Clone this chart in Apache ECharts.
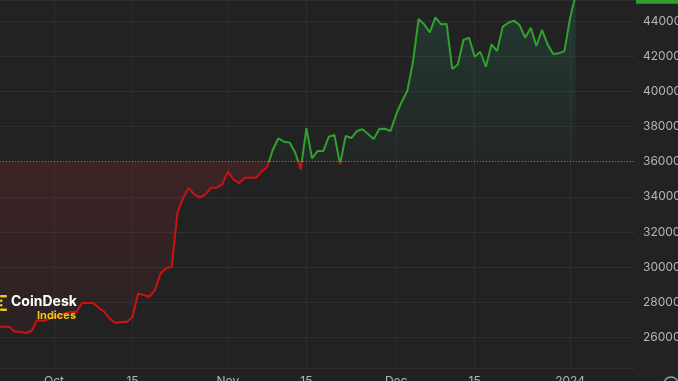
<!DOCTYPE html>
<html>
<head>
<meta charset="utf-8">
<script src="https://cdn.jsdelivr.net/npm/echarts@6/dist/echarts.min.js"></script>
<style>
html,body{margin:0;padding:0;background:#222222;}
#c{width:678px;height:381px;}
</style>
</head>
<body>
<div id="c"></div>
<script>
// ---- data ----
const startDate = '2023-09-21';
const prices = [
  26600, 26600, 26600, 26320, 26320, 26250, 26360, 26990, 26930, 27015,
  27160, 27215, 27385, 27440, 27440, 27950, 27950, 27950, 27670, 27440,
  27040, 26820, 26870, 26870, 27160, 28500, 28410, 28310, 28690, 29630,
  29930, 30020, 33090, 33910, 34500, 34140, 33950, 34140, 34515, 34515,
  34710, 35430, 34980, 34770, 35080, 35080, 35080, 35430, 35690, 36660,
  37330, 37130, 37080, 36520, 35560, 37900, 36190, 36600, 36600, 37420,
  37510, 35840, 37460, 37340, 37740, 37840, 37570, 37290, 37860, 37870,
  37740, 38680, 39410, 40030, 41680, 44110, 43810, 43350, 44210, 43810,
  43830, 41270, 41530, 42920, 43050, 41970, 42250, 41400, 42670, 42290,
  43680, 43900, 44020, 43770, 43050, 43620, 42580, 43490, 42670, 42120,
  42160, 42290, 44150, 45500
];
const baseline = 36000;
const tickDates = ['2023-10-01', '2023-10-15', '2023-11-01', '2023-11-15', '2023-12-01', '2023-12-15', '2024-01-01'];
const tickLabels = ['Oct', '15', 'Nov', '15', 'Dec', '15', '2024'];
const xRange = ['2023-09-21T09:00:00Z', '2024-01-12T14:00:00Z'];
const yRange = [24256, 45195];

// ---- styles ----
const GREEN = '#2fa12f';
const RED = '#cc1111';
const DAY = 86400000;
const t0 = Date.parse(startDate);
const pairs = prices.map((v, i) => [t0 + i * DAY, v]);
const tickTimes = tickDates.map(d => Date.parse(d));
const lastPrice = prices[prices.length - 1];

const chart = echarts.init(document.getElementById('c'), null, {renderer: 'canvas'});
const W = 678, H = 381;
const gridTop = 0, gridBottom = 13, gridRight = 43;
const plotH = H - gridTop - gridBottom;
const frac = (yRange[1] - baseline) / (yRange[1] - yRange[0]);

const vGrid = tickTimes.map(t => ({xAxis: t, lineStyle: {color: '#2c2c2c', type: 'solid', width: 1}, label: {show: false}}));

const logo = [
  {type: 'rect', z: 100, shape: {x: 0, y: 295, width: 7, height: 2.5, r: 1}, style: {fill: '#f0c419'}},
  {type: 'rect', z: 100, shape: {x: 0, y: 299.5, width: 2.5, height: 2.5, r: 1}, style: {fill: '#f0c419'}},
  {type: 'rect', z: 100, shape: {x: 0, y: 304, width: 2.5, height: 2.5, r: 1}, style: {fill: '#f0c419'}},
  {type: 'rect', z: 100, shape: {x: 0, y: 308.5, width: 7, height: 2.5, r: 1}, style: {fill: '#f0c419'}},
  {type: 'text', z: 100, left: 11, top: 295, style: {text: 'CoinDesk', fill: '#ffffff', font: 'bold 14px Inter, Roboto, sans-serif'}},
  {type: 'text', z: 100, left: 37, top: 310, style: {text: 'Indices', fill: '#f0c419', font: 'bold 11px Inter, Roboto, sans-serif'}},
  {type: 'circle', z: 100, shape: {cx: 671, cy: 384, r: 7}, style: {fill: 'none', stroke: '#9a9a9a', lineWidth: 1.5}}
];

chart.setOption({
  backgroundColor: '#222222',
  animation: false,
  grid: {left: 0, right: gridRight, top: gridTop, bottom: gridBottom, containLabel: false, outerBoundsMode: 'none'},
  xAxis: {
    type: 'value',
    min: Date.parse(xRange[0]),
    max: Date.parse(xRange[1]),
    axisLine: {show: false},
    axisTick: {show: false},
    splitLine: {show: false},
    axisLabel: {
      customValues: tickTimes,
      color: '#b4b4b4',
      fontSize: 12,
      fontFamily: 'Inter, Roboto, sans-serif',
      margin: 7,
      formatter: function (val) {
        const i = tickTimes.indexOf(+val);
        return i >= 0 ? tickLabels[i] : '';
      }
    }
  },
  yAxis: {
    type: 'value',
    position: 'right',
    min: yRange[0],
    max: yRange[1],
    splitNumber: 10,
    axisLine: {show: false},
    axisTick: {show: false},
    splitLine: {show: true, lineStyle: {color: '#2e2e2e', width: 1}},
    axisLabel: {
      showMinLabel: false,
      showMaxLabel: false,
      color: '#b4b4b4',
      fontSize: 12,
      fontFamily: 'Inter, Roboto, sans-serif',
      margin: 8,
      align: 'left',
      formatter: function (v) { return String(v); }
    }
  },
  visualMap: {
    show: false,
    type: 'piecewise',
    seriesIndex: 0,
    dimension: 1,
    pieces: [
      {lte: baseline, color: RED},
      {gt: baseline, lte: 1e9, color: GREEN}
    ],
    outOfRange: {color: GREEN}
  },
  series: [{
    type: 'line',
    data: pairs,
    symbol: 'none',
    showSymbol: false,
    clip: false,
    lineStyle: {width: 2},
    z: 3,
    areaStyle: {
      origin: baseline,
      opacity: 1,
      color: new echarts.graphic.LinearGradient(0, gridTop, 0, gridTop + plotH, [
        {offset: 0, color: 'rgba(40,170,120,0.17)'},
        {offset: frac, color: 'rgba(40,170,120,0.03)'},
        {offset: frac, color: 'rgba(200,40,50,0.17)'},
        {offset: 1, color: 'rgba(200,40,50,0.02)'}
      ], true)
    },
    markLine: {
      silent: true,
      symbol: 'none',
      animation: false,
      z: 1,
      data: vGrid.concat([
        {yAxis: baseline, lineStyle: {color: '#777777', type: [1, 2], width: 1}, label: {show: false}}
      ])
    }
  }],
  graphic: logo
});

// last-price tag on the right axis, placed through the chart's own scale
const lastPx = chart.convertToPixel({gridIndex: 0}, pairs[pairs.length - 1]);
const tagX = W - gridRight + 1;
chart.setOption({
  graphic: logo.concat([
    {type: 'rect', z: 100, shape: {x: tagX, y: lastPx[1] - 9, width: W - tagX, height: 18}, style: {fill: GREEN}},
    {type: 'text', z: 101, x: tagX + 4, y: lastPx[1], style: {text: String(lastPrice), fill: '#ffffff', font: '12px Inter, Roboto, sans-serif', verticalAlign: 'middle'}}
  ])
});
</script>
</body>
</html>
